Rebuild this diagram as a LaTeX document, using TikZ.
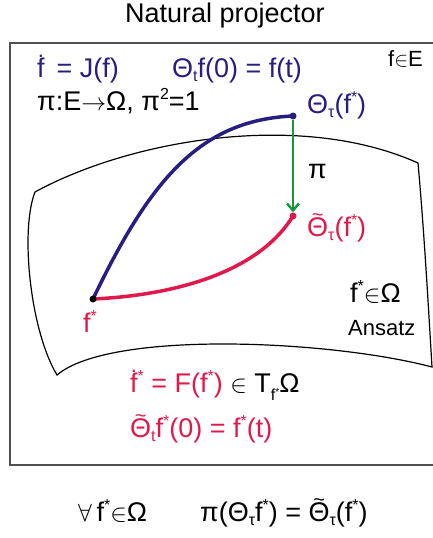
\documentclass[tikz,border=0pt]{standalone}
\usepackage{fontspec}
\setmainfont{Liberation Sans}
\usetikzlibrary{arrows.meta}
\definecolor{cblue}{RGB}{40,30,130}
\definecolor{cred}{RGB}{225,25,75}
\definecolor{cgreen}{RGB}{20,150,60}
\definecolor{cframe}{RGB}{80,80,80}
\newcommand\mysub[1]{\raisebox{-0.3ex}{\fontsize{16}{16}\selectfont #1}}
\newcommand\mysup[1]{\raisebox{0.75ex}{\fontsize{16}{16}\selectfont #1}}
\newcommand\fdot{\ooalign{f\cr\hidewidth\raisebox{0.72em}{\fontsize{22}{22}\selectfont .}\hidewidth\cr}}
\newcommand\tTheta{\ooalign{Θ\cr\hidewidth\raisebox{0.55em}{\fontsize{20}{20}\selectfont \char"007E}\hidewidth\cr}}
\begin{document}
\begin{tikzpicture}[x=1pt,y=-1pt,
  lbl/.style={inner sep=0pt,anchor=base west,font=\fontsize{27}{31}\selectfont},
  small/.style={inner sep=0pt,anchor=base west,font=\fontsize{22}{26}\selectfont},
  curve/.style={line width=3.5pt},
  dotpt/.style={circle,fill,inner sep=0pt,minimum size=7pt}]
\useasboundingbox (0,0) rectangle (433,538);
\clip (0,0) rectangle (433,538);
% title
\node[inner sep=0pt,anchor=base,font=\fontsize{27}{31}\selectfont] (title) at (225,22) {Natural projector};
% frame
\draw[cframe,line width=1.4pt] (10,43) rectangle (445,465);
% surface
\draw[line width=1.2pt] (35,192) .. controls (130,140) and (300,110) .. (418,163)
  .. controls (424,230) and (428,300) .. (432,367)
  .. controls (330,340) and (110,330) .. (57,375)
  .. controls (30,330) and (20,230) .. (35,192);
% points
\coordinate (fs) at (93,299);
\coordinate (th) at (293,116);
\coordinate (tt) at (293,216);
\draw[cblue,curve] (fs) .. controls (150,180) and (200,120) .. (th);
\draw[cred,curve] (fs) .. controls (180,295) and (260,270) .. (tt);
\node[dotpt,black] (pfs) at (fs) {};
\node[dotpt,cblue] (pth) at (th) {};
\node[dotpt,cred] (ptt) at (tt) {};
\draw[cgreen,line width=2.4pt,-{Straight Barb[length=7pt,width=12pt,line width=2.4pt]}] (pth) -- (ptt.north);
% labels
\node[lbl,cblue] (eq1) at (37,77) {\fdot\ \,= J(f)};
\node[lbl,cblue] (eq2) at (172,77) {Θ\mysub{t}f(0) = f(t)};
\node[small] (fE) at (388,66) {f$\in$E};
\node[lbl] (piE) at (37,110) {π:E$\rightarrow$Ω, π\mysup{2}=1};
\node[lbl,cblue] (thl) at (307,113) {Θ\mysub{τ}(f\mysup{*})};
\node[lbl] (pil) at (308,178) {π};
\node[lbl,cred] (ttl) at (307,236) {\tTheta\mysub{τ}(f\mysup{*})};
\node[lbl,cred,anchor=base] (fsl) at (90,332) {f\mysup{*}};
\node[lbl] (fom) at (350,302) {f\mysup{*}$\in$Ω};
\node[small] (ans) at (348,335) {Ansatz};
\node[lbl] (r1) at (130,392) {\textcolor{cred}{\fdot\mysup{*} = F(f\mysup{*})} $\in$ T\raisebox{-0.6ex}{\fontsize{16}{16}\selectfont f\raisebox{0.6ex}{\fontsize{10}{10}\selectfont *}}Ω};
\node[lbl,cred] (r2) at (130,437) {\tTheta\mysub{t}f\mysup{*}(0) = f\mysup{*}(t)};
\node[lbl] (b1) at (78,521) {$\forall$\,f\mysup{*}$\in$Ω};
\node[lbl] (b2) at (200,521) {π(Θ\mysub{τ}f\mysup{*}) = \tTheta\mysub{τ}(f\mysup{*})};
\end{tikzpicture}
\end{document}
